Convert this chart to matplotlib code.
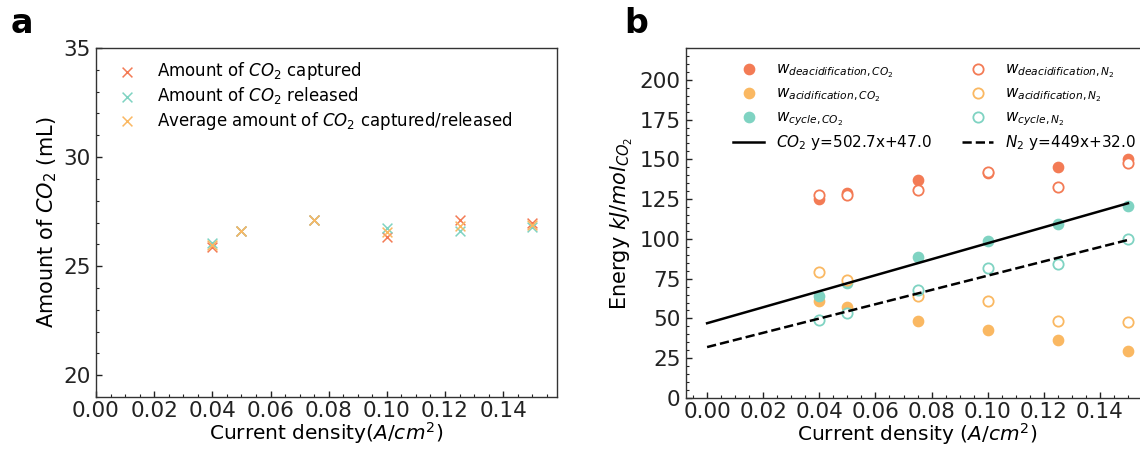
import numpy as np
import matplotlib
matplotlib.use("Agg")
import matplotlib.pyplot as plt
from matplotlib.ticker import MultipleLocator

# panel a: CO2 volume per cycle
j_a = [0.04, 0.05, 0.075, 0.10, 0.125, 0.15]
co2_captured = [25.87, 26.6, 27.12, 26.34, 27.12, 26.96]
co2_released = [26.04, 26.6, 27.12, 26.76, 26.60, 26.78]
co2_average = [25.95, 26.6, 27.12, 26.55, 26.86, 26.87]

# panel b: energy per mol CO2
j_b = [0.04, 0.05, 0.075, 0.10, 0.125, 0.15]
w_deacid_co2 = [125.2, 128.8, 136.8, 141.4, 145.5, 150.4]
w_acid_co2 = [61.2, 57.0, 48.6, 42.9, 36.2, 29.7]
w_cycle_co2 = [64.0, 72.3, 88.4, 98.6, 109.5, 120.8]
w_deacid_n2 = [127.7, 127.3, 130.7, 142.0, 132.4, 147.4]
w_acid_n2 = [79.0, 74.1, 64.3, 60.7, 48.4, 48.0]
w_cycle_n2 = [48.8, 53.6, 67.6, 81.5, 84.4, 100.1]

fit_co2 = (502.7, 47.0)
fit_n2 = (449.0, 32.0)

red = "#F37B55"
orange = "#FAB862"
teal = "#7FD3C2"

plt.rcParams["font.family"] = "DejaVu Sans"
plt.rcParams["mathtext.fontset"] = "dejavusans"

fig = plt.figure(figsize=(11.4, 4.49), dpi=100)
ax1 = fig.add_axes([0.0842, 0.1158, 0.4044, 0.7773])
ax2 = fig.add_axes([0.6018, 0.1136, 0.4061, 0.7795])

for ax in (ax1, ax2):
    ax.tick_params(which="both", direction="in", labelsize=15.5, colors="#222222")
    ax.tick_params(which="major", length=4.5, width=1, pad=4)
    ax.tick_params(axis="x", which="major", pad=3)
    ax.tick_params(which="minor", length=2.2, width=0.8)
    for s in ax.spines.values():
        s.set_color("#333333")
        s.set_linewidth(1)

ticks_x = np.arange(0, 0.141, 0.02)

# ---- a ----
ax1.scatter(j_a, co2_captured, marker="x", s=50, color=red, linewidths=1.1,
            label="Amount of $CO_2$ captured")
ax1.scatter(j_a, co2_released, marker="x", s=50, color=teal, linewidths=1.1,
            label="Amount of $CO_2$ released")
ax1.scatter(j_a, co2_average, marker="x", s=50, color=orange, linewidths=1.1,
            label="Average amount of $CO_2$ captured/released")
ax1.set_xlim(0, 0.1585)
ax1.set_ylim(19, 35)
ax1.xaxis.set_minor_locator(MultipleLocator(0.005))
ax1.yaxis.set_minor_locator(MultipleLocator(1))
ax1.set_xticks(ticks_x)
ax1.set_xticklabels([f"{v:.2f}" for v in ticks_x])
ax1.set_yticks([20, 25, 30, 35])
ax1.set_xlabel("Current density($A/cm^2$)", fontsize=14.5, labelpad=-0.5)
ax1.set_ylabel("Amount of $CO_2$ (mL)", fontsize=15, labelpad=3)
ax1.legend(loc="upper left", bbox_to_anchor=(0.017, 0.985), borderaxespad=0,
           frameon=False, fontsize=12, labelspacing=0.2)

# ---- b ----
ms = 55
h1 = ax2.scatter(j_b, w_deacid_co2, s=ms, color=red, label="$w_{deacidification,CO_2}$")
h2 = ax2.scatter(j_b, w_acid_co2, s=ms, color=orange, label="$w_{acidification,CO_2}$")
h3 = ax2.scatter(j_b, w_cycle_co2, s=ms, color=teal, label="$w_{cycle,CO_2}$")
h5 = ax2.scatter(j_b, w_deacid_n2, s=ms, facecolors="white", edgecolors=red,
                 linewidths=1.3, label="$w_{deacidification,N_2}$")
h6 = ax2.scatter(j_b, w_acid_n2, s=ms, facecolors="white", edgecolors=orange,
                 linewidths=1.3, label="$w_{acidification,N_2}$")
h7 = ax2.scatter(j_b, w_cycle_n2, s=ms, facecolors="white", edgecolors=teal,
                 linewidths=1.3, label="$w_{cycle,N_2}$")

xf = np.array([0.0, 0.15])
h4, = ax2.plot(xf, fit_co2[0] * xf + fit_co2[1], color="black", lw=1.8,
               label="$CO_2$ y=502.7x+47.0")
h8, = ax2.plot(xf, fit_n2[0] * xf + fit_n2[1], color="black", lw=1.8, ls="--",
               label="$N_2$ y=449x+32.0")

ax2.set_xlim(-0.0075, 0.1575)
ax2.set_ylim(0, 220)
ax2.xaxis.set_minor_locator(MultipleLocator(0.005))
ax2.yaxis.set_minor_locator(MultipleLocator(5))
ax2.set_xticks(ticks_x)
ax2.set_xticklabels([f"{v:.2f}" for v in ticks_x])
ax2.set_yticks(np.arange(0, 201, 25))
ax2.set_xlabel("Current density ($A/cm^2$)", fontsize=14.5, labelpad=-0.5)
ax2.set_ylabel("Energy $kJ/mol_{CO_2}$", fontsize=15, labelpad=3)
ax2.legend(handles=[h1, h2, h3, h4, h5, h6, h7, h8], ncol=2, loc="upper left",
           bbox_to_anchor=(0.089, 0.98), borderaxespad=0, frameon=False,
           fontsize=11, labelspacing=0.36, columnspacing=2.0)

fig.text(0.0096, 0.9265, "a", fontsize=24, fontweight="bold")
fig.text(0.548, 0.9265, "b", fontsize=24, fontweight="bold")

fig.savefig("out.png", dpi=100)
